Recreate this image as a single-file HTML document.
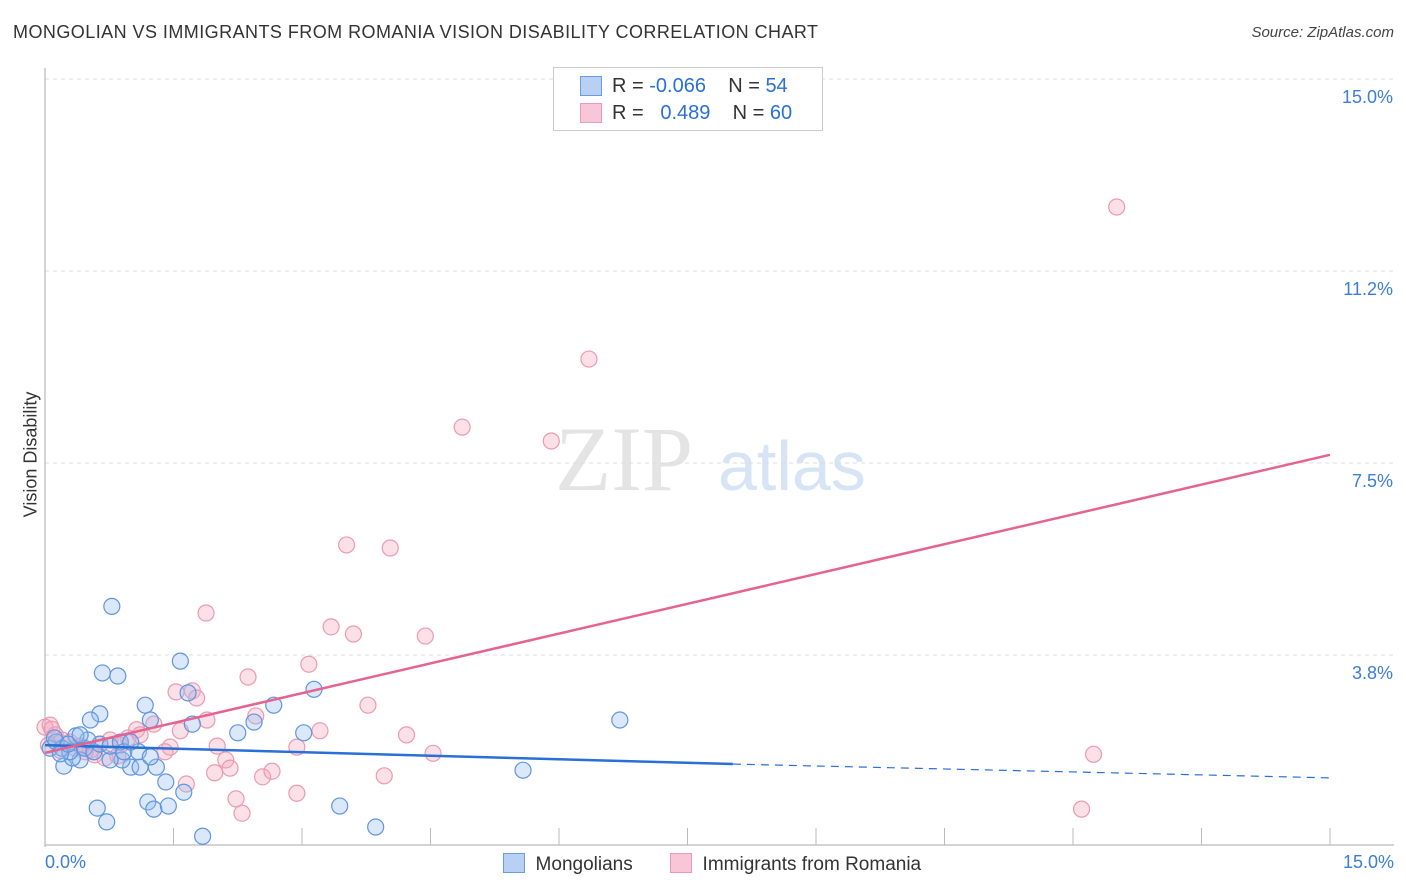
<!DOCTYPE html>
<html><head><meta charset="utf-8"><style>
body{margin:0;background:#fff;font-family:"Liberation Sans",sans-serif;}
#wrap{position:relative;width:1406px;height:892px;overflow:hidden;}
.t{position:absolute;white-space:nowrap;}
</style></head><body>
<div id="wrap">
<div class="t" style="left:13px;top:22px;font-size:18px;color:#333;letter-spacing:0.45px;">MONGOLIAN VS IMMIGRANTS FROM ROMANIA VISION DISABILITY CORRELATION CHART</div>
<div class="t" style="right:12px;top:24px;font-size:15px;color:#444;font-style:italic;">Source: ZipAtlas.com</div>
<svg id="plot" width="1406" height="892" style="position:absolute;left:0;top:0"></svg>
</div>
<script>
const yTicks=[3.75,7.5,11.25,15];
const yTickLabels=["3.8%","7.5%","11.2%","15.0%"];
const xTickVals=[1.5,3,4.5,6,7.5,9,10.5,12,13.5,15];
const blueX=[0.78,1.58,0.67,0.85,1.17,1.67,2.67,3.14,0.64,0.53,1.23,1.72,2.44,2.25,3.02,6.71,5.58,0.61,0.72,1.2,1.27,1.44,1.62,1.84,3.44,3.86,1.41,1.0,1.11,1.3,0.9,0.76,0.41,0.22,0.32,0.06,0.13,0.2,0.29,0.46,0.57,0.64,0.76,0.88,0.92,1.09,0.5,0.36,0.11,0.18,0.27,0.41,1.0,1.23];
const blueY=[4.7,3.63,3.4,3.34,2.77,3.01,2.77,3.08,2.6,2.48,2.48,2.4,2.44,2.23,2.23,2.48,1.5,0.76,0.49,0.88,0.74,0.8,1.07,0.21,0.8,0.39,1.27,1.56,1.56,1.56,1.7,1.7,1.7,1.58,1.74,1.93,2.05,1.93,1.86,1.93,1.86,2.01,1.97,2.05,1.86,1.86,2.09,2.17,2.13,1.82,2.01,2.19,2.05,1.76];
const pinkX=[12.51,6.35,4.87,5.91,3.52,4.03,1.88,3.34,3.6,4.44,3.08,2.37,1.53,1.72,1.77,3.77,1.89,2.46,3.21,4.22,1.58,1.27,1.07,2.94,4.53,12.24,2.01,1.46,1.4,2.11,2.16,1.98,2.54,2.65,3.96,1.65,2.94,2.23,2.3,12.1,0.06,0.12,0.2,0.29,0.41,0.53,0.64,0.76,0.88,0.97,1.11,0.18,0.04,0.35,0.47,0.58,0.7,0.85,0,0.08];
const pinkY=[12.5,9.53,8.2,7.93,5.9,5.84,4.57,4.3,4.16,4.12,3.57,3.32,3.03,3.05,2.91,2.77,2.48,2.56,2.27,2.19,2.27,2.4,2.29,1.95,1.83,1.81,1.97,1.95,1.86,1.7,1.54,1.45,1.37,1.48,1.39,1.23,1.05,0.94,0.66,0.74,2.38,2.19,2.09,2.05,1.97,1.89,2.01,2.09,1.99,2.13,2.19,1.89,1.99,1.93,1.86,1.8,1.74,1.78,2.34,2.3];
const blueLine=[[0,1.99],[8.03,1.62],[15,1.35]];
const pinkLine=[[0,1.84],[15,7.66]];
const X0=45,X1=1330,Y0=847,PX=51.2;
const sx=v=>X0+(v/15)*(X1-X0), sy=v=>Y0-v*PX;
const svg=document.getElementById('plot');const NS='http://www.w3.org/2000/svg';
function mk(tag,a,p){const e=document.createElementNS(NS,tag);for(const k in a)e.setAttribute(k,a[k]);(p||svg).appendChild(e);return e;}
let w=mk('text',{x:555,y:490,'font-size':92,fill:'#e4e4e4','font-family':'Liberation Serif, serif'});w.textContent='ZIP';


let w2=mk('text',{x:718,y:490,'font-size':70,fill:'#d6e4f5','font-family':'Liberation Sans, sans-serif'});w2.textContent='atlas';


yTicks.forEach((t,i)=>{
 const g=mk('line',{x1:X0,x2:1394,y1:sy(t),y2:sy(t),stroke:'#dcdcdc','stroke-dasharray':'4,4'});
 
 
 const l=mk('text',{x:1393,y:sy(t)+24,'text-anchor':'end','font-size':18,fill:'#3b7dd8','font-family':'Liberation Sans, sans-serif'});l.textContent=yTickLabels[i];
 
 
});
const ax=mk('line',{x1:X0,x2:X0,y1:68,y2:Y0,stroke:'#aaa'});


const bx=mk('line',{x1:X0,x2:1394,y1:845,y2:845,stroke:'#aaa'});


xTickVals.forEach(t=>{const e=mk('line',{x1:sx(t),x2:sx(t),y1:828,y2:845,stroke:'#bbb'});
 
 });
function dots(xs,ys,fill,stroke,name){xs.forEach((x,i)=>{const c=mk('circle',{cx:sx(x),cy:sy(ys[i]),r:8,fill:fill,stroke:stroke,'stroke-width':1.2});
 
 });}
dots(pinkX,pinkY,'rgba(244,166,190,0.35)','#eb9ab3','point-romania');
dots(blueX,blueY,'rgba(150,190,240,0.35)','#5f95df','point-mongolian');
const bl1=mk('line',{x1:sx(blueLine[0][0]),y1:sy(blueLine[0][1]),x2:sx(blueLine[1][0]),y2:sy(blueLine[1][1]),stroke:'#2a6fd6','stroke-width':2.5});


const bl2=mk('line',{x1:sx(blueLine[1][0]),y1:sy(blueLine[1][1]),x2:sx(blueLine[2][0]),y2:sy(blueLine[2][1]),stroke:'#2a6fd6','stroke-width':1.2,'stroke-dasharray':'8,6'});


const pl=mk('line',{x1:sx(pinkLine[0][0]),y1:sy(pinkLine[0][1]),x2:sx(pinkLine[1][0]),y2:sy(pinkLine[1][1]),stroke:'#e5638f','stroke-width':2.5});


</script>
<div class="t" style="left:-32px;top:444px;font-size:18px;color:#333;transform:rotate(-90deg);">Vision Disability</div>
<div class="t" style="left:45px;top:852px;font-size:18px;color:#3b7dd8;">0.0%</div>
<div class="t" style="right:12px;top:852px;font-size:18px;color:#3b7dd8;">15.0%</div>
<div style="position:absolute;left:553px;top:67px;width:268px;height:62px;border:1px solid #ccc;background:#fff;font-size:20px;color:#333;">
 <div style="position:absolute;left:26px;top:8px;width:20px;height:18px;background:#b7d0f4;border:1px solid #6a9de0;"></div>
 <div class="t" style="left:58px;top:7px;">R = <span style="color:#2a6fd6">-0.066</span>&nbsp;&nbsp;&nbsp; N = <span style="color:#2a6fd6">54</span></div>
 <div style="position:absolute;left:26px;top:35px;width:20px;height:18px;background:#f8c6d6;border:1px solid #eb9ab3;"></div>
 <div class="t" style="left:58px;top:34px;">R = &nbsp;&nbsp;<span style="color:#2a6fd6">0.489</span>&nbsp;&nbsp;&nbsp; N = <span style="color:#2a6fd6">60</span></div>
</div>
<div style="position:absolute;left:503px;top:853px;font-size:19px;color:#333;">
 <span style="display:inline-block;width:20px;height:18px;background:#b7d0f4;border:1px solid #6a9de0;vertical-align:-3px;"></span>&nbsp; Mongolians</div>
<div style="position:absolute;left:670px;top:853px;font-size:19px;color:#333;">
 <span style="display:inline-block;width:20px;height:18px;background:#f8c6d6;border:1px solid #eb9ab3;vertical-align:-3px;"></span>&nbsp; Immigrants from Romania</div>
</body></html>
